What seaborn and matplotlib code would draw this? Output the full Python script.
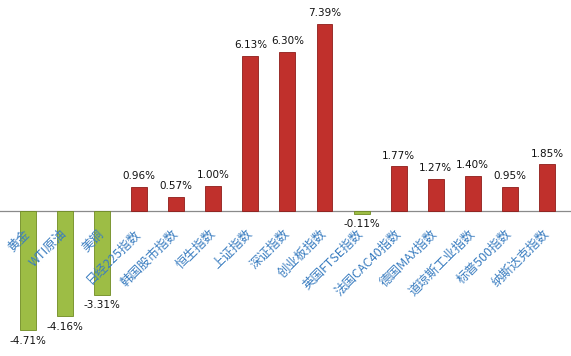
import matplotlib
matplotlib.use("Agg")
import matplotlib.pyplot as plt
import seaborn as sns
import pandas as pd

categories = ["黄金", "WTI原油", "美铜", "日经225指数", "韩国股市指数", "恒生指数",
              "上证指数", "深证指数", "创业板指数", "英国FTSE指数", "法国CAC40指数",
              "德国MAX指数", "道琼斯工业指数", "标普500指数", "纳斯达克指数"]
values = [-4.71, -4.16, -3.31, 0.96, 0.57, 1.00, 6.13, 6.30, 7.39, -0.11, 1.77,
          1.27, 1.40, 0.95, 1.85]

sns.set_style("white")
plt.rcParams['font.family'] = ['Noto Sans CJK SC', 'DejaVu Sans']

df = pd.DataFrame({"cat": categories, "val": values})
red, green = "#C0302C", "#9DBD45"
palette = {c: (green if v < 0 else red) for c, v in zip(categories, values)}
edges = {c: ("#6F8B22" if v < 0 else "#8E1C19") for c, v in zip(categories, values)}

fig = plt.figure(figsize=(5.71, 3.56), dpi=100)
ax = fig.add_axes([0, 0, 1, 1])
sns.barplot(data=df, x="cat", y="val", hue="cat", palette=palette, legend=False,
            width=0.43, ax=ax, order=categories, hue_order=categories, saturation=1)

for cont, c in zip(ax.containers, categories):
    for p in cont.patches:
        p.set_edgecolor(edges[c])
        p.set_linewidth(0.6)
    v = values[categories.index(c)]
    ax.bar_label(cont, labels=[f"{v:.2f}%"], padding=4, fontsize=7.5,
                 family='DejaVu Sans', color='#111111')

ax.set_xlim(-0.755, 14.65)
ax.set_ylim(-5.73, 8.34)
ax.set_xlabel("")
ax.set_ylabel("")
ax.set_yticks([])
ax.set_axisbelow(False)
for s in ["top", "right", "left"]:
    ax.spines[s].set_visible(False)
ax.spines["bottom"].set_position(("data", 0))
ax.spines["bottom"].set_color("#8a8a8a")
ax.spines["bottom"].set_linewidth(0.9)
ax.spines["bottom"].set_zorder(0.5)
ax.tick_params(axis="x", length=0, pad=15)
ax.set_xticks(range(len(categories)))
ax.set_xticklabels(categories, rotation=45, ha="right", va="center",
                   rotation_mode="anchor", fontsize=9, color="#3A7DC0")
ax.xaxis.set_zorder(3)
ax.set_facecolor("white")
fig.savefig("out.png", dpi=100, facecolor="white")
